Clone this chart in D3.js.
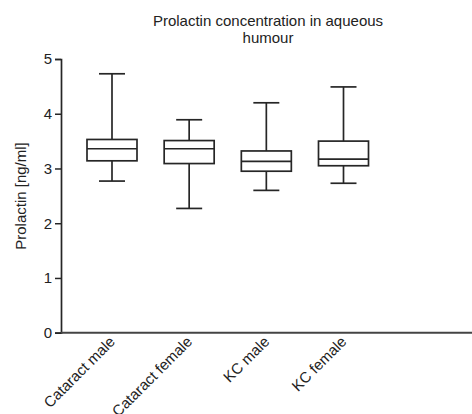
<!DOCTYPE html>
<html>
<head>
<meta charset="utf-8">
<script src="https://cdn.jsdelivr.net/npm/d3@7"></script>
<style>
  body { margin: 0; background: #fff; }
  text { font-family: "Liberation Sans", Arial, sans-serif; fill: #222; }
</style>
</head>
<body>
<svg></svg>
<script>
var width = 472, height = 414;

// data
var groups   = ["Cataract male", "Cataract female", "KC male", "KC female"];
var whiskLow = [2.77, 2.27, 2.60, 2.73];
var q1       = [3.14, 3.09, 2.95, 3.05];
var medians  = [3.36, 3.36, 3.13, 3.17];
var q3       = [3.53, 3.51, 3.32, 3.50];
var whiskHi  = [4.73, 3.89, 4.20, 4.49];
var yTicks   = [0, 1, 2, 3, 4, 5];

var data = groups.map((g, i) => ({
  group: g, lo: whiskLow[i], q1: q1[i], med: medians[i], q3: q3[i], hi: whiskHi[i]
}));

var plotLeft = 61, plotBottom = 332.7, plotTop = 59;
var boxW = 50, capW = 26, stroke = "#262626";
var fontSize = "15px";

var xScale = d3.scalePoint()
               .domain(groups)
               .range([112, 343.5]);

var yScale = d3.scaleLinear()
               .domain([0, 5])
               .range([plotBottom, plotTop]);

var svg = d3.select("svg")
            .attr("width", width)
            .attr("height", height);

// y axis
var yAxis = d3.axisLeft(yScale)
              .tickValues(yTicks)
              .tickFormat(d3.format("d"))
              .tickSize(6)
              .tickPadding(3);
var gy = svg.append("g")
  .attr("transform", "translate(" + plotLeft + ",0)")
  .call(yAxis);
gy.select(".domain").attr("stroke", stroke).attr("stroke-width", 1.7);
gy.selectAll(".tick line").attr("stroke", stroke).attr("stroke-width", 1.5);
gy.selectAll(".tick text").style("font-size", fontSize)
  .style("font-family", "'Liberation Sans', Arial, sans-serif").attr("fill", "#222");

// x axis line running to the right edge
svg.append("line")
  .attr("x1", plotLeft).attr("x2", width)
  .attr("y1", plotBottom).attr("y2", plotBottom)
  .attr("stroke", "#444").attr("stroke-width", 1.9);

// x labels, rotated
svg.selectAll(".xlabel")
  .data(groups)
  .enter()
  .append("text")
  .attr("class", "xlabel")
  .attr("transform", d => "translate(" + (xScale(d) - 4) + "," + (plotBottom + 2) + ") rotate(-45)")
  .attr("text-anchor", "end")
  .attr("dy", "0.75em")
  .style("font-size", fontSize)
  .text(d => d);

// boxes
var box = svg.selectAll(".box")
  .data(data)
  .enter()
  .append("g")
  .attr("class", "box")
  .attr("transform", d => "translate(" + xScale(d.group) + ",0)");

box.append("line")
  .attr("x1", 0).attr("x2", 0)
  .attr("y1", d => yScale(d.hi)).attr("y2", d => yScale(d.q3))
  .attr("stroke", stroke).attr("stroke-width", 1.7);
box.append("line")
  .attr("x1", 0).attr("x2", 0)
  .attr("y1", d => yScale(d.q1)).attr("y2", d => yScale(d.lo))
  .attr("stroke", stroke).attr("stroke-width", 1.7);
box.append("line")
  .attr("x1", -capW / 2).attr("x2", capW / 2)
  .attr("y1", d => yScale(d.hi)).attr("y2", d => yScale(d.hi))
  .attr("stroke", stroke).attr("stroke-width", 1.7);
box.append("line")
  .attr("x1", -capW / 2).attr("x2", capW / 2)
  .attr("y1", d => yScale(d.lo)).attr("y2", d => yScale(d.lo))
  .attr("stroke", stroke).attr("stroke-width", 1.7);
box.append("rect")
  .attr("x", -boxW / 2).attr("width", boxW)
  .attr("y", d => yScale(d.q3))
  .attr("height", d => yScale(d.q1) - yScale(d.q3))
  .attr("fill", "none").attr("stroke", stroke).attr("stroke-width", 1.7);
box.append("line")
  .attr("x1", -boxW / 2).attr("x2", boxW / 2)
  .attr("y1", d => yScale(d.med)).attr("y2", d => yScale(d.med))
  .attr("stroke", stroke).attr("stroke-width", 1.7);

// y label
svg.append("text")
  .attr("transform", "rotate(-90)")
  .attr("x", -196)
  .attr("y", 21)
  .attr("dy", "0.35em")
  .attr("text-anchor", "middle")
  .style("font-size", fontSize)
  .text("Prolactin [ng/ml]");

// title
var title = svg.append("text")
  .attr("x", 268)
  .attr("y", 26)
  .attr("text-anchor", "middle")
  .style("font-size", fontSize);
title.append("tspan").attr("x", 268).text("Prolactin concentration in aqueous");
title.append("tspan").attr("x", 268).attr("dy", 17).text("humour");
</script>
</body>
</html>
